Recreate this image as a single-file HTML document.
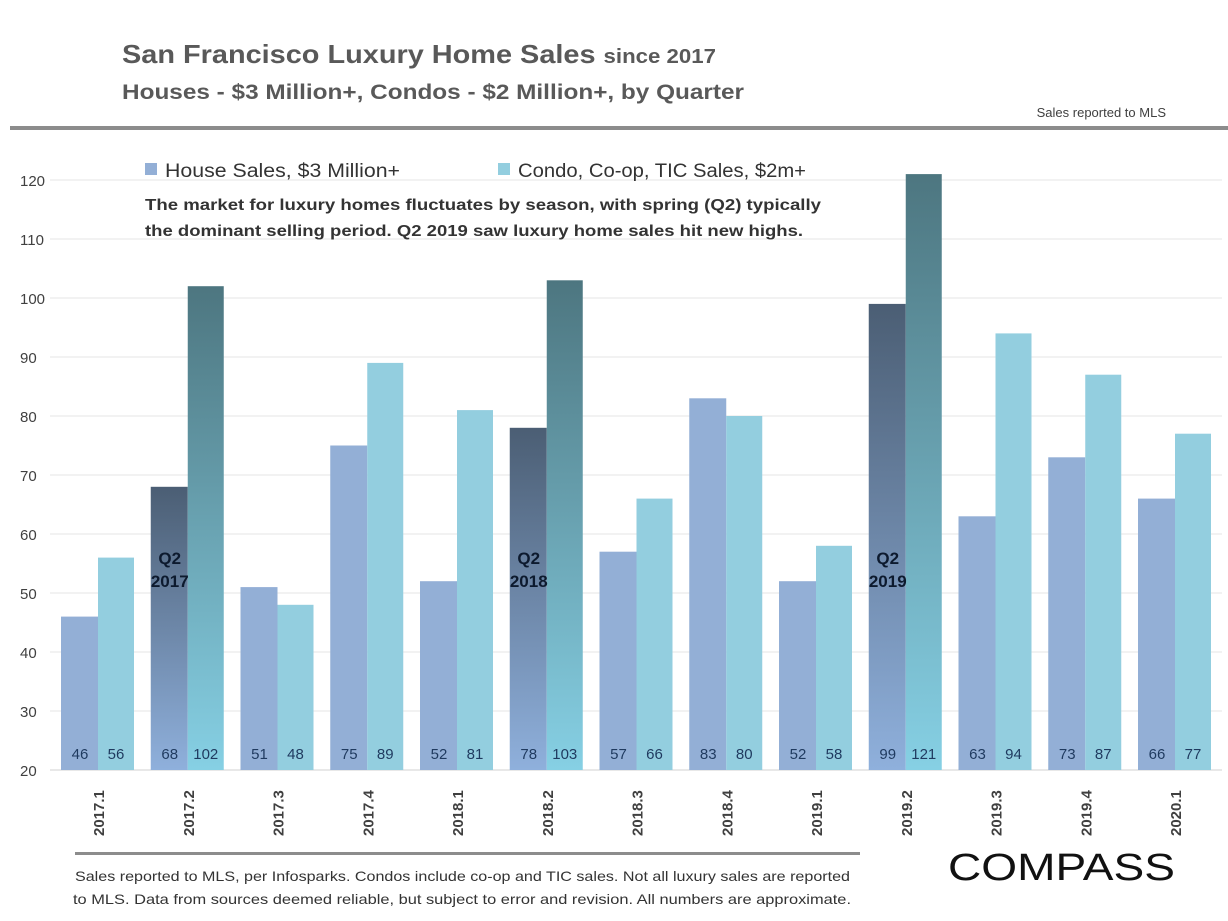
<!DOCTYPE html>
<html><head><meta charset="utf-8"><style>
body{margin:0;background:#fff;width:1228px;height:916px;overflow:hidden;font-family:"Liberation Sans",sans-serif}
</style></head><body>
<svg id="c" width="1228" height="916" xmlns="http://www.w3.org/2000/svg">
<defs>
<linearGradient id="gh" x1="0" y1="0" x2="0" y2="1"><stop offset="0" stop-color="#4b5e74"/><stop offset="1" stop-color="#8fb0dc"/></linearGradient>
<linearGradient id="gc" x1="0" y1="0" x2="0" y2="1"><stop offset="0" stop-color="#4d7680"/><stop offset="1" stop-color="#86d0e4"/></linearGradient>
</defs>
<text x="122" y="63" font-size="26" font-weight="bold" fill="#595959" textLength="594" lengthAdjust="spacingAndGlyphs">San Francisco Luxury Home Sales <tspan font-size="20">since 2017</tspan></text>
<text x="122" y="99" font-size="21" font-weight="bold" fill="#595959" textLength="622" lengthAdjust="spacingAndGlyphs">Houses - $3 Million+, Condos - $2 Million+, by Quarter</text>
<text x="1166" y="117" font-size="13" fill="#404040" text-anchor="end">Sales reported to MLS</text>
<rect x="10" y="126" width="1218" height="4" fill="#8c8c8c"/>
<g id="grid"></g>
<g id="bars"></g>
<rect x="145" y="163" width="12" height="12" fill="#93afd6"/>
<text x="165" y="177" font-size="19" fill="#333" textLength="235" lengthAdjust="spacingAndGlyphs">House Sales, $3 Million+</text>
<rect x="498" y="163" width="12" height="12" fill="#93cedf"/>
<text x="518" y="177" font-size="19" fill="#333" textLength="288" lengthAdjust="spacingAndGlyphs">Condo, Co-op, TIC Sales, $2m+</text>
<text x="145" y="210" font-size="16" font-weight="bold" fill="#333" textLength="676" lengthAdjust="spacingAndGlyphs">The market for luxury homes fluctuates by season, with spring (Q2) typically</text>
<text x="145" y="236" font-size="16" font-weight="bold" fill="#333" textLength="658" lengthAdjust="spacingAndGlyphs">the dominant selling period. Q2 2019 saw luxury home sales hit new highs.</text>
<rect x="75" y="852" width="785" height="3" fill="#8c8c8c"/>
<text x="75" y="881" font-size="14" fill="#333" textLength="775" lengthAdjust="spacingAndGlyphs">Sales reported to MLS, per Infosparks.  Condos include co-op and TIC sales. Not all luxury sales are reported</text>
<text x="73" y="904" font-size="14" fill="#333" textLength="778" lengthAdjust="spacingAndGlyphs">to MLS. Data from sources deemed reliable, but subject to error and revision. All numbers are approximate.</text>
<text x="948" y="880" font-size="38" fill="#111" textLength="227" lengthAdjust="spacingAndGlyphs">COMPASS</text>
</svg>
<script>
const categories=["2017.1","2017.2","2017.3","2017.4","2018.1","2018.2","2018.3","2018.4","2019.1","2019.2","2019.3","2019.4","2020.1"];
const houseSales=[46,68,51,75,52,78,57,83,52,99,63,73,66];
const condoSales=[56,102,48,89,81,103,66,80,58,121,94,87,77];
const highlight=["","Q2 2017","","","","Q2 2018","","","","Q2 2019","","",""];
const yTicks=[20,30,40,50,60,70,80,90,100,110,120];
const NS="http://www.w3.org/2000/svg";
const y=v=>770-(v-20)*5.9;
const cx=i=>98+i*89.75;
function mk(t,a,p){const e=document.createElementNS(NS,t);for(const k in a)e.setAttribute(k,a[k]);p.appendChild(e);return e;}
const grid=document.getElementById('grid'),bars=document.getElementById('bars');
yTicks.forEach(t=>{
 const l=mk('line',{x1:50,x2:1222,y1:y(t),y2:y(t),stroke:t===20?'#d0d0d0':'#e6e6e6','stroke-width':1},grid);
 
 
 const tx=mk('text',{x:20,y:y(t)+6,'font-size':15,fill:'#404040'},grid);tx.textContent=t;
 
 
});
categories.forEach((c,i)=>{
 const hi=highlight[i]!=="";
 const h=mk('rect',{x:cx(i)-37,y:y(houseSales[i]),width:37,height:y(20)-y(houseSales[i]),fill:hi?'url(#gh)':'#93afd6'},bars);
 
 
 const k=mk('rect',{x:cx(i),y:y(condoSales[i]),width:36,height:y(20)-y(condoSales[i]),fill:hi?'url(#gc)':'#93cedf'},bars);
 
 
 const l1=mk('text',{x:cx(i)-18,y:759,'font-size':15,fill:'#1f3a5f','text-anchor':'middle'},bars);l1.textContent=houseSales[i];
 
 
 const l2=mk('text',{x:cx(i)+18,y:759,'font-size':15,fill:'#1f3a5f','text-anchor':'middle'},bars);l2.textContent=condoSales[i];
 
 
 const xl=mk('text',{transform:`translate(${cx(i)+6},${836}) rotate(-90)`,'font-size':15,'font-weight':'bold',fill:'#404040'},bars);xl.textContent=c;
 
 
 if(hi){const p=highlight[i].split(' ');
  const a=mk('text',{x:cx(i)-18,y:564,'font-size':17,'font-weight':'bold',fill:'#0d1a2e','text-anchor':'middle'},bars);a.textContent=p[0];
  
  
  const b=mk('text',{x:cx(i)-18,y:587,'font-size':17,'font-weight':'bold',fill:'#0d1a2e','text-anchor':'middle'},bars);b.textContent=p[1];
  
  }
});
</script>
</body></html>
